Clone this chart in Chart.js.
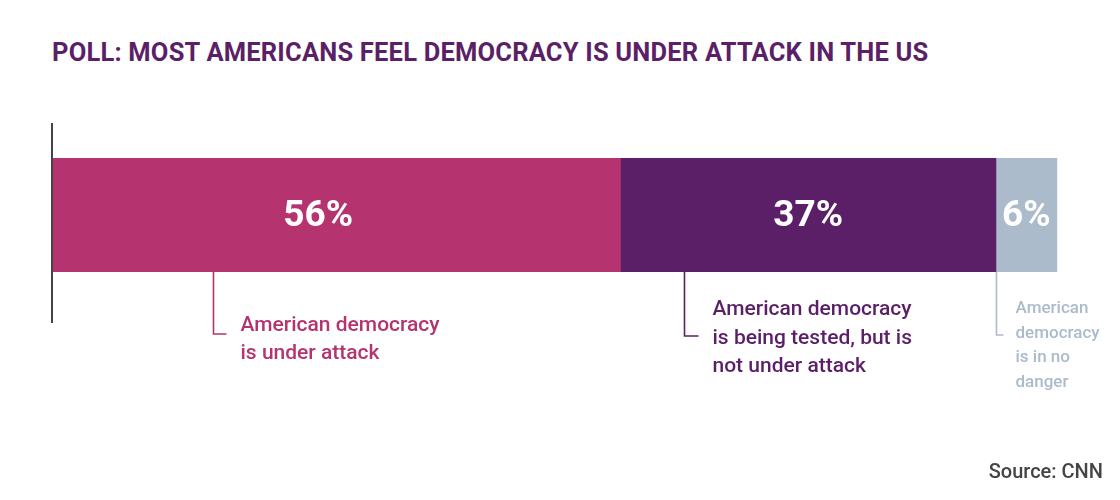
<!DOCTYPE html>
<html>
<head>
<meta charset="utf-8">
<script src="https://cdn.jsdelivr.net/npm/chart.js@4/dist/chart.umd.min.js"></script>
<style>
  html, body { margin: 0; padding: 0; background: #fff; }
  #wrap { position: relative; width: 1120px; height: 500px; overflow: hidden; }
  #title {
    position: absolute; left: 52px; top: 37px;
    font: 700 25.5px Roboto, sans-serif; color: #5B1F67; letter-spacing: 0.2px;
  }
  #source {
    position: absolute; right: 17px; top: 459px;
    font: 500 20px Roboto, sans-serif; color: #444;
  }
  canvas { position: absolute; left: 0; top: 0; }
</style>
</head>
<body>
<div id="wrap">
  <div id="title">POLL: MOST AMERICANS FEEL DEMOCRACY IS UNDER ATTACK IN THE US</div>
  <canvas id="c" width="1120" height="500"></canvas>
  <div id="source">Source: CNN</div>
</div>
<script>
const CATEGORIES = ['US'];
const SERIES_NAMES = ['Under attack', 'Tested', 'No danger'];
const SERIES_VALUES = [56, 37, 6];
const COLORS = ['#B5336F', '#5B1F67', '#ABBBCB'];
const NOTE_LINES = [
  ['American democracy', 'is under attack'],
  ['American democracy', 'is being tested, but is', 'not under attack'],
  ['American', 'democracy', 'is in no', 'danger'],
];
// where each leader line meets the bar, in % along the axis
const NOTE_ANCHOR = [15.9, 62.3, 93];

const X_MAX = 100;

// the big percentage labels: small nudge from segment centre (px)
const LABEL_SHIFT = [-18, 0, 0];

// leader + text styling per note
const NOTE_STYLE = [
  { drop: 62, arm: 13, gap: 14, font: '500 21px Roboto, sans-serif', first: 331, lh: 28 },
  { drop: 64, arm: 14, gap: 14, font: '500 21px Roboto, sans-serif', first: 315, lh: 28.5 },
  { drop: 63, arm: 7,  gap: 12, font: '500 17px Roboto, sans-serif', first: 313, lh: 24.7 },
];

const barLabelPlugin = {
  id: 'barLabels',
  afterDatasetsDraw(chart) {
    const { ctx } = chart;
    ctx.save();
    ctx.fillStyle = '#fff';
    ctx.font = '700 37px Roboto, sans-serif';
    ctx.textAlign = 'center';
    ctx.textBaseline = 'middle';
    chart.data.datasets.forEach((ds, i) => {
      const bar = chart.getDatasetMeta(i).data[0];
      if (!bar) return;
      const cx = (bar.x + bar.base) / 2 + LABEL_SHIFT[i];
      ctx.fillText(ds.data[0] + '%', cx, bar.y + 2);
    });
    ctx.restore();
  },
};

const notesPlugin = {
  id: 'notes',
  afterDraw(chart) {
    const { ctx, chartArea, scales } = chart;
    ctx.save();

    // axis line at zero, running past the bar
    const x0 = scales.x.getPixelForValue(0);
    ctx.strokeStyle = '#444';
    ctx.lineWidth = 2;
    ctx.beginPath();
    ctx.moveTo(x0, chartArea.top - 35);
    ctx.lineTo(x0, chartArea.bottom + 51);
    ctx.stroke();

    NOTE_LINES.forEach((lines, i) => {
      const st = NOTE_STYLE[i];
      const x = Math.round(scales.x.getPixelForValue(NOTE_ANCHOR[i])) + 0.5;
      const yEnd = chartArea.bottom + st.drop;
      ctx.strokeStyle = COLORS[i];
      ctx.lineWidth = 1.6;
      ctx.beginPath();
      ctx.moveTo(x, chartArea.bottom);
      ctx.lineTo(x, yEnd);
      ctx.lineTo(x + st.arm, yEnd);
      ctx.stroke();

      ctx.fillStyle = COLORS[i];
      ctx.font = st.font;
      ctx.textAlign = 'left';
      ctx.textBaseline = 'alphabetic';
      lines.forEach((t, j) => {
        ctx.fillText(t, x + st.arm + st.gap, st.first + j * st.lh);
      });
    });
    ctx.restore();
  },
};

new Chart(document.getElementById('c'), {
  type: 'bar',
  data: {
    labels: CATEGORIES,
    datasets: SERIES_VALUES.map((v, i) => ({
      label: SERIES_NAMES[i],
      data: [v],
      backgroundColor: COLORS[i],
      borderWidth: 0,
      barPercentage: 1,
      categoryPercentage: 1,
    })),
  },
  options: {
    indexAxis: 'y',
    responsive: false,
    animation: false,
    layout: { padding: { left: 52, right: 53, top: 158, bottom: 228 } },
    plugins: { legend: { display: false }, tooltip: { enabled: false } },
    scales: {
      x: { stacked: true, min: 0, max: X_MAX, display: false },
      y: { stacked: true, display: false },
    },
  },
  plugins: [barLabelPlugin, notesPlugin],
});
</script>
</body>
</html>
